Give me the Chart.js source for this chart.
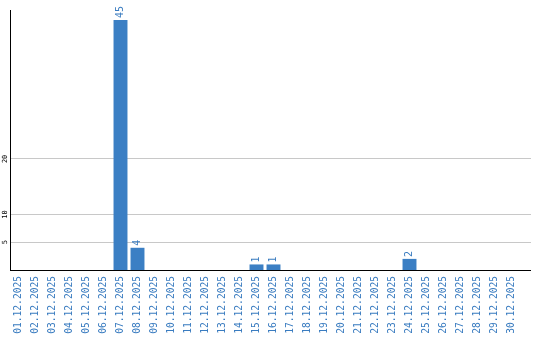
<!DOCTYPE html>
<html><head><meta charset="utf-8">
<script src="https://cdn.jsdelivr.net/npm/chart.js@4/dist/chart.umd.min.js"></script>
<style>html,body{margin:0;padding:0;background:#fff}</style>
</head><body>
<canvas id="c" width="540" height="340"></canvas>
<script>
const categories = ["01.12.2025","02.12.2025","03.12.2025","04.12.2025","05.12.2025","06.12.2025","07.12.2025","08.12.2025","09.12.2025","10.12.2025","11.12.2025","12.12.2025","13.12.2025","14.12.2025","15.12.2025","16.12.2025","17.12.2025","18.12.2025","19.12.2025","20.12.2025","21.12.2025","22.12.2025","23.12.2025","24.12.2025","25.12.2025","26.12.2025","27.12.2025","28.12.2025","29.12.2025","30.12.2025"];
const values = [0,0,0,0,0,0,45,4,0,0,0,0,0,0,1,1,0,0,0,0,0,0,0,2,0,0,0,0,0,0];
const yTickValues = [5,10,20];
const yMax = 46.8;

const BLUE = '#3b7fc4';
const LABEL_BLUE = '#3a7cc0';
const GRID = '#c8c8c8';

function align(p) { return Math.round(p - 0.5) + 0.5; }

const valueLabels = {
  id: 'valueLabels',
  afterDatasetsDraw(chart) {
    const ctx = chart.ctx;
    const meta = chart.getDatasetMeta(0);
    ctx.save();
    ctx.fillStyle = LABEL_BLUE;
    ctx.font = '10px "DejaVu Sans Mono"';
    ctx.textAlign = 'left';
    ctx.textBaseline = 'middle';
    meta.data.forEach((bar, i) => {
      const v = chart.data.datasets[0].data[i];
      if (!v) return;
      ctx.save();
      ctx.translate(bar.x, bar.y - 2);
      ctx.rotate(-Math.PI / 2);
      ctx.fillText(String(v), 0, 0);
      ctx.restore();
    });
    ctx.restore();
  }
};

const extendLines = {
  id: 'extendLines',
  beforeDatasetsDraw(chart) {
    const ctx = chart.ctx;
    const y = chart.scales.y;
    const a = chart.chartArea;
    const ext = 11;
    ctx.save();
    ctx.lineWidth = 1;
    ctx.strokeStyle = GRID;
    y.ticks.forEach(t => {
      const py = align(y.getPixelForValue(t.value));
      ctx.beginPath(); ctx.moveTo(a.right - 1, py); ctx.lineTo(a.right + ext, py); ctx.stroke();
    });
    ctx.strokeStyle = '#000';
    const by = align(y.getPixelForValue(0));
    ctx.beginPath(); ctx.moveTo(a.right - 1, by); ctx.lineTo(a.right + ext, by); ctx.stroke();
    ctx.restore();
  }
};

new Chart(document.getElementById('c'), {
  type: 'bar',
  data: {
    labels: categories,
    datasets: [{
      data: values,
      backgroundColor: BLUE,
      borderWidth: 0,
      categoryPercentage: 1,
      barPercentage: 0.82
    }]
  },
  options: {
    responsive: false,
    animation: false,
    devicePixelRatio: 1,
    layout: { padding: { top: 10, right: 20, left: 0, bottom: 0 } },
    plugins: { legend: { display: false }, tooltip: { enabled: false } },
    scales: {
      x: {
        grid: { display: false, drawTicks: false },
        border: { display: true, color: '#000', width: 1 },
        ticks: {
          color: LABEL_BLUE,
          font: { family: '"DejaVu Sans Mono"', size: 9.6 },
          minRotation: 90, maxRotation: 90,
          autoSkip: false,
          padding: 6
        },
        afterFit(s) { s.height = 70; }
      },
      y: {
        min: 0, max: yMax,
        grid: { color: GRID, drawTicks: false },
        border: { display: true, color: '#000', width: 1 },
        ticks: {
          color: '#000',
          font: { family: '"DejaVu Sans Mono"', size: 7 },
          minRotation: 90, maxRotation: 90,
          crossAlign: 'center',
          padding: 1
        },
        afterBuildTicks(s) { s.ticks = yTickValues.map(v => ({ value: v })); },
        afterFit(s) { s.width = 10; }
      }
    }
  },
  plugins: [extendLines, valueLabels]
});
</script>
</body></html>
